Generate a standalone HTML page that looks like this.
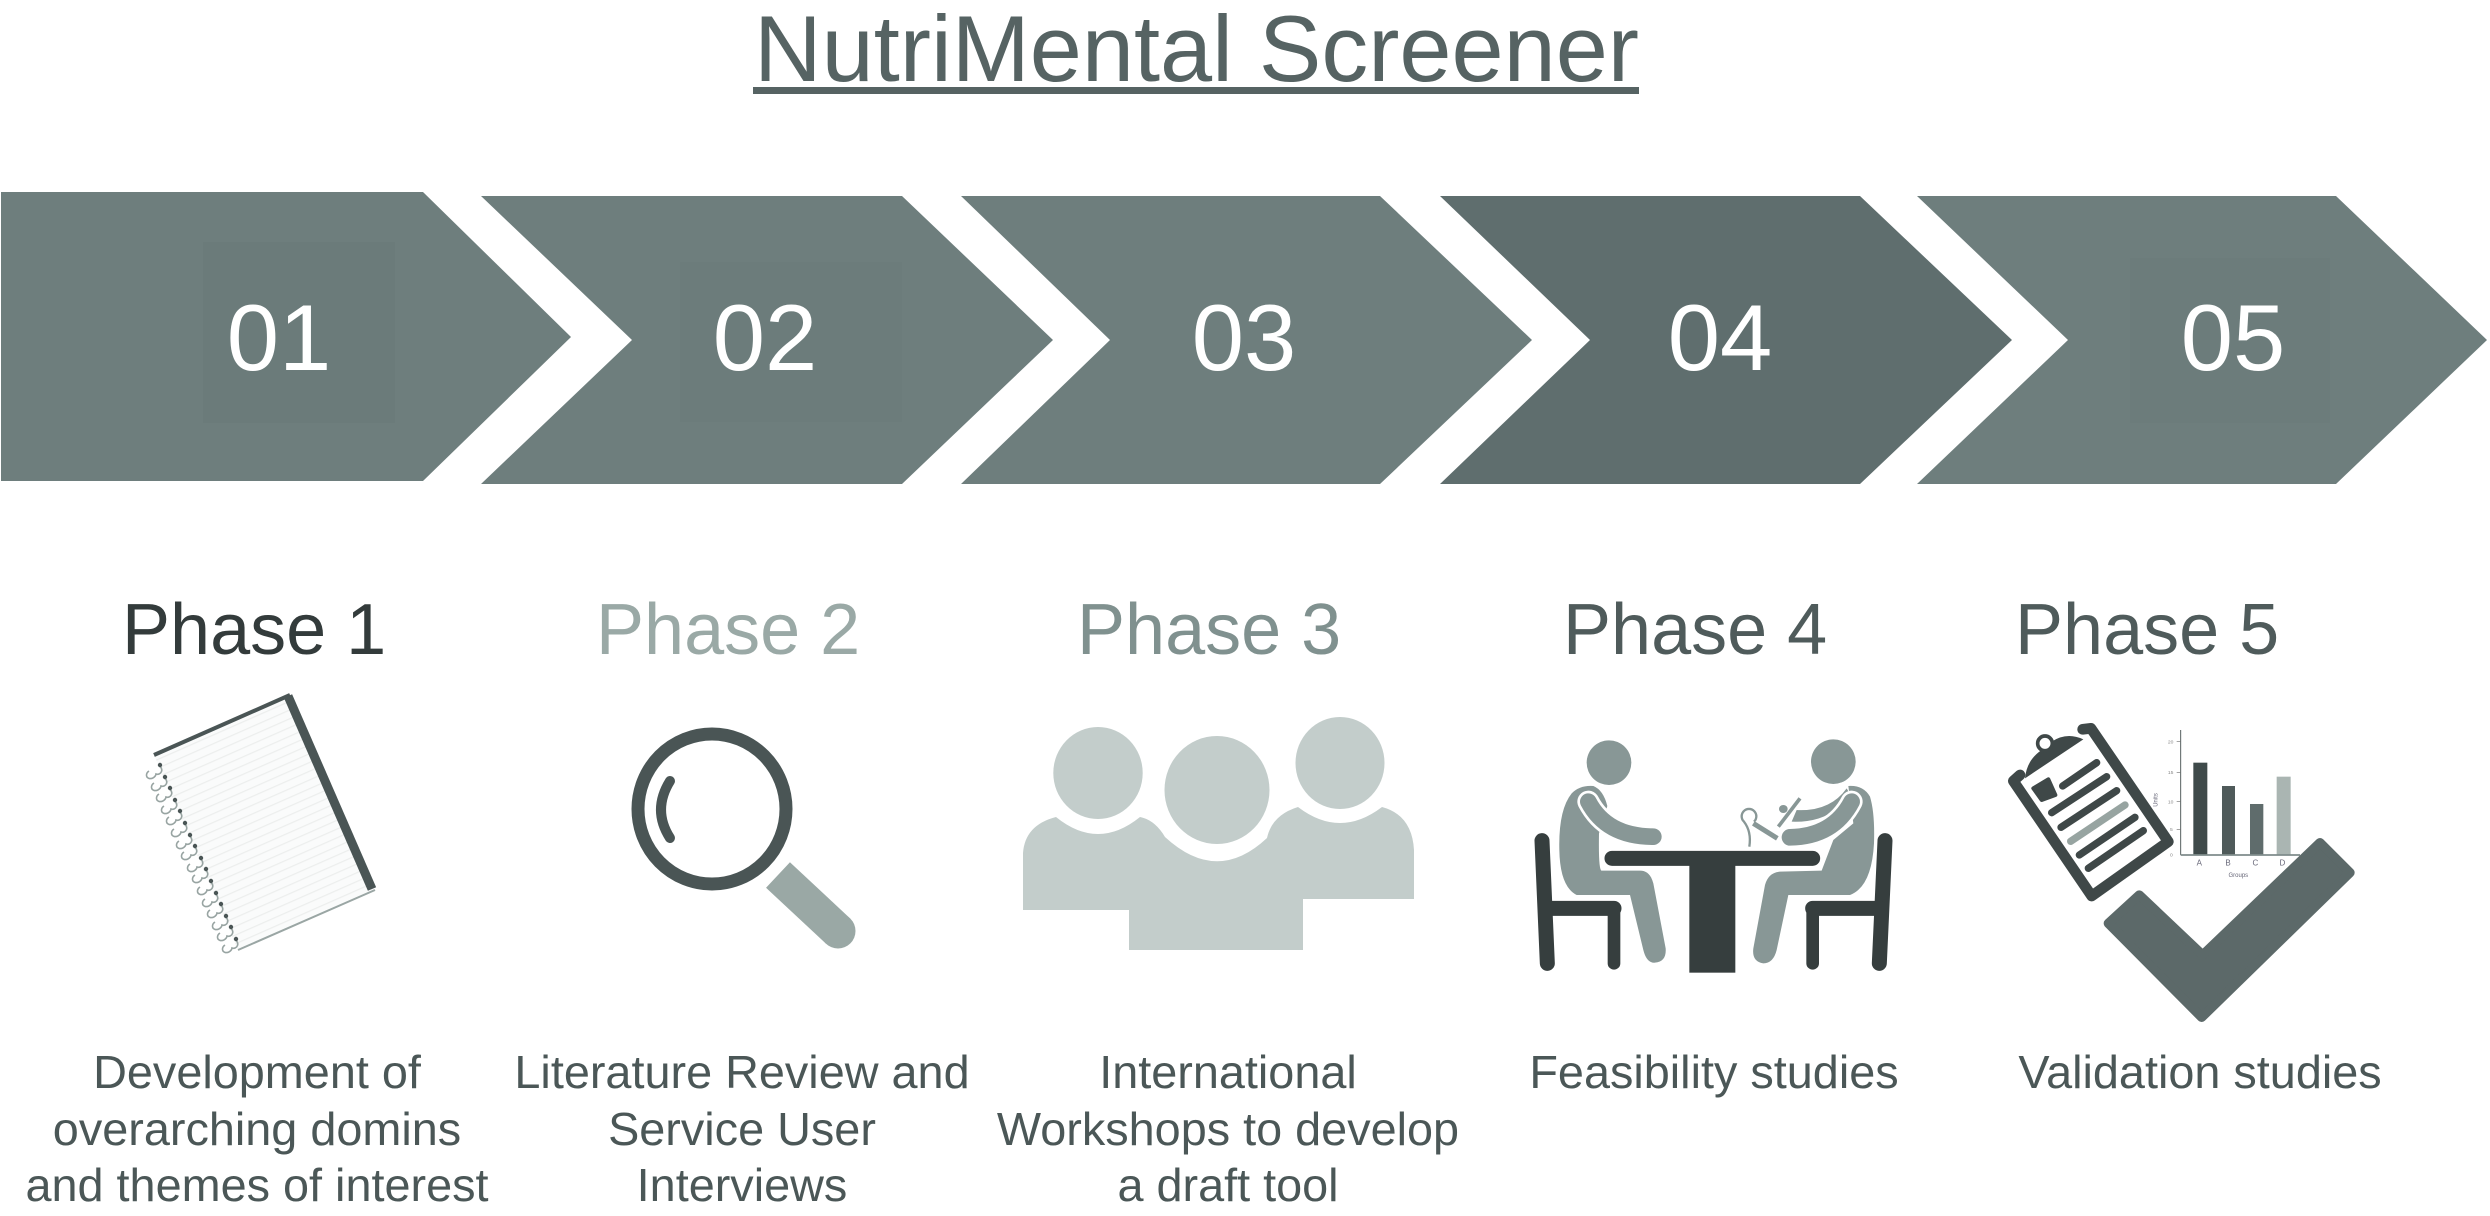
<!DOCTYPE html>
<html><head><meta charset="utf-8"><title>NutriMental Screener</title>
<style>html,body{margin:0;padding:0;background:#fff;width:2490px;height:1216px;overflow:hidden}svg{display:block}text{font-family:"Liberation Sans",Arial,sans-serif}</style></head>
<body>
<svg width="2490" height="1216" viewBox="0 0 2490 1216" xmlns="http://www.w3.org/2000/svg">
<defs>
<pattern id="pl" width="8" height="8" patternUnits="userSpaceOnUse" patternTransform="rotate(-23.8 154 755)"><rect width="8" height="8" fill="#fafbfb"/><rect y="0" width="8" height="1.2" fill="#eceeed"/></pattern>
<g id="ring"><path d="M-5,3 a5,4 -30 1 0 7,3 a4,4 0 0 0 3,-8" fill="none" stroke="#98a4a2" stroke-width="1.6"/><circle cx="6" cy="-3" r="2.2" fill="#4a5555"/></g>
</defs>
<rect width="2490" height="1216" fill="#fff"/>

<!-- Title -->
<text x="754" y="81" font-size="94" fill="#566363" textLength="885" lengthAdjust="spacingAndGlyphs">NutriMental Screener</text>
<rect x="753" y="87" width="886" height="7" fill="#566363"/>

<!-- Chevrons -->
<polygon points="1,192 423,192 571,337 423,481 1,481" fill="#6e7e7d"/>
<polygon points="481,196 902,196 1053,340 902,484 481,484 632,340" fill="#6e7e7d"/>
<polygon points="961,196 1380,196 1532,340 1380,484 961,484 1110,340" fill="#6e7e7d"/>
<polygon points="1440,196 1860,196 2012,340 1860,484 1440,484 1590,340" fill="#5f6e6e"/>
<polygon points="1917,196 2336,196 2487,340 2336,484 1917,484 2068,340" fill="#6e7e7d"/>
<rect x="203" y="242" width="192" height="181" fill="#6b7b7a"/>
<rect x="680" y="262" width="222" height="160" fill="#6c7c7b"/>
<rect x="2130" y="258" width="200" height="165" fill="#6c7c7b"/>

<g font-size="94" fill="#fff" text-anchor="middle">
<text x="279" y="370">01</text>
<text x="765" y="370">02</text>
<text x="1244" y="370">03</text>
<text x="1720" y="370">04</text>
<text x="2233" y="370">05</text>
</g>

<!-- Phase labels -->
<g font-size="72">
<text x="122" y="654" fill="#333b3b">Phase 1</text>
<text x="596" y="654" fill="#9aa9a6">Phase 2</text>
<text x="1077" y="654" fill="#80918f">Phase 3</text>
<text x="1563" y="654" fill="#4f5b5b">Phase 4</text>
<text x="2015" y="654" fill="#4f5b5b">Phase 5</text>
</g>

<!-- Descriptions -->
<g font-size="46.8" fill="#4b5757" text-anchor="middle">
<text x="257" y="1088">Development of</text>
<text x="257" y="1145">overarching domins</text>
<text x="257" y="1201">and themes of interest</text>
<text x="742" y="1088">Literature Review and</text>
<text x="742" y="1145">Service User</text>
<text x="742" y="1201">Interviews</text>
<text x="1228" y="1088">International</text>
<text x="1228" y="1145">Workshops to develop</text>
<text x="1228" y="1201">a draft tool</text>
<text x="1714" y="1088">Feasibility studies</text>
<text x="2200" y="1088">Validation studies</text>
</g>

<!-- Notebook -->
<polygon points="290,695 154,755 238,950 375,890" fill="url(#pl)"/>
<line x1="154" y1="755" x2="290" y2="695" stroke="#4a5555" stroke-width="4"/>
<line x1="238" y1="950" x2="375" y2="890" stroke="#9aa6a4" stroke-width="2"/>
<line x1="288" y1="696" x2="372" y2="889" stroke="#4a5555" stroke-width="9"/>
<g>
<use href="#ring" x="154" y="768"/><use href="#ring" x="159" y="780"/><use href="#ring" x="164" y="791"/><use href="#ring" x="169" y="803"/><use href="#ring" x="174" y="814"/><use href="#ring" x="179" y="826"/><use href="#ring" x="184" y="838"/><use href="#ring" x="189" y="849"/><use href="#ring" x="195" y="861"/><use href="#ring" x="200" y="872"/><use href="#ring" x="205" y="884"/><use href="#ring" x="210" y="896"/><use href="#ring" x="215" y="907"/><use href="#ring" x="220" y="919"/><use href="#ring" x="225" y="930"/><use href="#ring" x="230" y="942"/>
</g>

<!-- Magnifier -->
<ellipse cx="712" cy="809" rx="74" ry="75" fill="none" stroke="#4a5555" stroke-width="13"/>
<path d="M670,781 Q652,810 670,838" fill="none" stroke="#4a5555" stroke-width="10" stroke-linecap="round"/>
<line x1="778" y1="875" x2="838" y2="931" stroke="#9aa8a5" stroke-width="35"/>
<circle cx="838" cy="931" r="17.5" fill="#9aa8a5"/>

<!-- People -->
<g fill="#c3cdcb">
<ellipse cx="1098" cy="773" rx="44.7" ry="46"/>
<ellipse cx="1217" cy="790" rx="52.5" ry="54"/>
<ellipse cx="1340" cy="763" rx="44.5" ry="46"/>
<path d="M1023,910 L1023,853 Q1025,825 1056,817 Q1098,851 1140,817 Q1155,820 1165,837 Q1217,885 1267,838 Q1272,815 1298,807 Q1340,839 1382,807 Q1412,815 1414,850 L1414,899 L1303,899 L1303,950 L1129,950 L1129,910 Z"/>
</g>

<!-- Meeting -->
<g transform="translate(1500,700) scale(.33333)">
<g stroke="#363e3e" fill="none" stroke-width="45" stroke-linecap="round">
<line x1="126" y1="422" x2="142" y2="790" />
<line x1="142" y1="625" x2="342" y2="625"/>
<line x1="342" y1="625" x2="342" y2="790" stroke-width="38"/>
<line x1="1155" y1="422" x2="1138" y2="790"/>
<line x1="1138" y1="625" x2="938" y2="625"/>
<line x1="938" y1="625" x2="938" y2="790" stroke-width="38"/>
<line x1="336" y1="475" x2="938" y2="475"/>
</g>
<rect x="568" y="475" width="138" height="343" fill="#363e3e"/>
<circle cx="327" cy="188" r="67" fill="#889796"/>
<circle cx="1000" cy="185" r="67" fill="#889796"/>
<!-- left person -->
<path d="M215,280 Q240,255 280,258 Q310,270 322,318 L297,400 Q295,512 305,512 L420,512 Q450,512 460,550 L497,745 Q500,785 465,788 Q440,790 430,750 L390,585 L230,585 Q180,560 178,450 Q175,330 215,280 Z" fill="#889796"/>
<path d="M265,305 Q320,410 460,410" fill="none" stroke="#fff" stroke-width="66" stroke-linecap="round"/>
<path d="M265,305 Q320,410 460,410" fill="none" stroke="#889796" stroke-width="50" stroke-linecap="round"/>
<!-- right person -->
<path d="M1040,265 Q990,335 890,330 L875,365 Q960,368 1012,325 L1060,300 Z" fill="#889796"/>
<path d="M1045,258 Q1090,255 1110,290 Q1125,340 1122,430 Q1115,560 1050,585 L865,585 L830,750 Q820,790 790,790 Q755,785 760,745 L795,555 Q805,518 840,515 L965,512 L1000,420 L1060,370 Z" fill="#889796"/>
<path d="M1055,305 Q1000,410 870,412" fill="none" stroke="#fff" stroke-width="66" stroke-linecap="round"/>
<path d="M1055,305 Q1000,410 870,412" fill="none" stroke="#889796" stroke-width="50" stroke-linecap="round"/>
<line x1="900" y1="295" x2="835" y2="380" stroke="#889796" stroke-width="11"/>
<ellipse cx="850" cy="327" rx="13" ry="12" fill="#889796"/>
<line x1="832" y1="415" x2="760" y2="370" stroke="#889796" stroke-width="15"/>
<path d="M762,365 a22,22 0 1 0 -30,0 Q755,395 748,440" fill="none" stroke="#889796" stroke-width="7"/>
</g>

<!-- Validation icon -->
<g transform="translate(1980,700) scale(.33333)">
<path d="M308,88 L333,85 L565,425 L335,588 L100,243 L120,225" fill="none" stroke="#3f4848" stroke-width="32" stroke-linejoin="round" stroke-linecap="round"/>
<path d="M135,235 Q140,180 185,150 L215,125 Q260,95 310,118 Z" fill="#3f4848"/>
<circle cx="195" cy="130" r="22" fill="#fff" stroke="#3f4848" stroke-width="11"/>
<polygon points="160,265 205,238 226,285 185,300" fill="#3f4848" stroke="#3f4848" stroke-width="12" stroke-linejoin="round"/>
<g stroke="#3f4848" stroke-width="22" stroke-linecap="round">
<line x1="248" y1="258" x2="350" y2="188"/>
<line x1="215" y1="338" x2="380" y2="230"/>
<line x1="243" y1="382" x2="410" y2="272"/>
<line x1="272" y1="424" x2="435" y2="315" stroke="#97a4a1"/>
<line x1="298" y1="465" x2="465" y2="352"/>
<line x1="325" y1="505" x2="490" y2="392"/>
</g>
<line x1="602" y1="90" x2="602" y2="465" stroke="#555f5f" stroke-width="3"/>
<g stroke="#777" stroke-width="2"><line x1="590" y1="125" x2="602" y2="125"/><line x1="590" y1="217" x2="602" y2="217"/><line x1="590" y1="305" x2="602" y2="305"/><line x1="590" y1="388" x2="602" y2="388"/></g>
<rect x="640" y="188" width="42" height="277" fill="#3f4a4a"/>
<rect x="726" y="258" width="39" height="207" fill="#4f5a5a"/>
<rect x="810" y="312" width="40" height="153" fill="#5f6c6c"/>
<rect x="890" y="230" width="42" height="235" fill="#aab5b2"/>
<line x1="602" y1="465" x2="960" y2="465" stroke="#7f8c8b" stroke-width="5"/>
<g font-size="24" fill="#667" text-anchor="middle">
<text x="658" y="496">A</text><text x="744" y="496">B</text><text x="826" y="496">C</text><text x="907" y="496">D</text>
</g>
<text x="775" y="531" font-size="18" fill="#667" text-anchor="middle">Groups</text>
<g font-size="15" fill="#888" text-anchor="middle">
<text x="572" y="130">20</text><text x="572" y="222">15</text><text x="572" y="310">10</text><text x="574" y="393">5</text><text x="574" y="470">0</text>
</g>
<text transform="translate(532,300) rotate(-90)" font-size="18" fill="#667" text-anchor="middle">Units</text>
<polygon points="478,585 385,670 665,952 1110,518 1020,428 668,765" fill="#5c6969" stroke="#5c6969" stroke-width="28" stroke-linejoin="round"/>
</g>
</svg>
</body></html>
